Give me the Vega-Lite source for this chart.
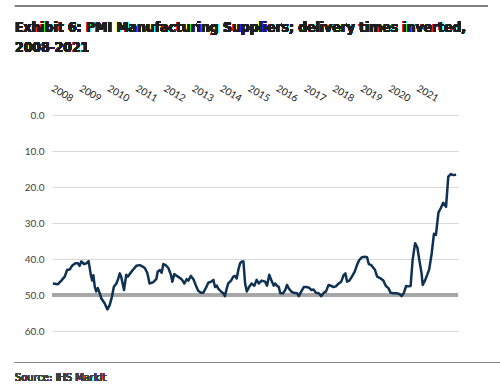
{
  "$schema": "https://vega.github.io/schema/vega-lite/v6.json",
  "width": 406,
  "height": 216,
  "autosize": {"type": "none"},
  "padding": {"left": 52, "top": 115, "right": 42, "bottom": 57},
  "background": "white",
  "config": {
    "view": {"stroke": null},
    "axisX": {"tickCount": 14, "format": "d", "labelOverlap": false, "grid": false, "domain": false, "ticks": false,
              "labelAngle": 30, "labelAlign": "right", "labelBaseline": "middle", "labelPadding": 16,
              "labelFont": "Lato", "labelFontSize": 10, "labelColor": "#1a1a1a", "title": null},
    "axisY": {"tickCount": 6, "format": ".1f", "labelOverlap": false, "grid": true, "gridColor": "#d9d9d9", "gridWidth": 1,
              "domain": false, "ticks": false, "labelPadding": 8, "labelFont": "Lato", "labelFontSize": 10,
              "labelColor": "#404040", "title": null}
  },
  "data": {
    "values": [
      {"t": 2007.33, "v": 46.8}, {"t": 2007.51, "v": 47.0}, {"t": 2007.63, "v": 46.0}, {"t": 2007.75, "v": 44.9},
      {"t": 2007.84, "v": 43.0}, {"t": 2007.93, "v": 42.9}, {"t": 2008.01, "v": 41.9}, {"t": 2008.13, "v": 41.2},
      {"t": 2008.22, "v": 41.2}, {"t": 2008.28, "v": 41.9}, {"t": 2008.34, "v": 40.7}, {"t": 2008.44, "v": 41.4},
      {"t": 2008.52, "v": 41.2}, {"t": 2008.60, "v": 40.6}, {"t": 2008.68, "v": 44.4}, {"t": 2008.73, "v": 46.0},
      {"t": 2008.77, "v": 44.5}, {"t": 2008.82, "v": 47.7}, {"t": 2008.87, "v": 49.0}, {"t": 2008.93, "v": 48.1},
      {"t": 2008.99, "v": 49.4}, {"t": 2009.05, "v": 50.9}, {"t": 2009.17, "v": 52.3}, {"t": 2009.27, "v": 54.0},
      {"t": 2009.35, "v": 52.8}, {"t": 2009.43, "v": 50.5}, {"t": 2009.50, "v": 47.7}, {"t": 2009.59, "v": 46.8},
      {"t": 2009.65, "v": 45.6}, {"t": 2009.71, "v": 44.0}, {"t": 2009.76, "v": 44.9}, {"t": 2009.86, "v": 48.6},
      {"t": 2009.94, "v": 44.4}, {"t": 2010.00, "v": 44.9}, {"t": 2010.06, "v": 44.2}, {"t": 2010.18, "v": 43.0},
      {"t": 2010.30, "v": 41.9}, {"t": 2010.42, "v": 41.7}, {"t": 2010.48, "v": 41.9}, {"t": 2010.60, "v": 42.5},
      {"t": 2010.69, "v": 43.9}, {"t": 2010.77, "v": 46.8}, {"t": 2010.89, "v": 46.5}, {"t": 2011.01, "v": 45.6},
      {"t": 2011.06, "v": 43.5}, {"t": 2011.14, "v": 43.1}, {"t": 2011.20, "v": 43.8}, {"t": 2011.26, "v": 41.4},
      {"t": 2011.34, "v": 41.7}, {"t": 2011.44, "v": 42.5}, {"t": 2011.53, "v": 44.4}, {"t": 2011.58, "v": 46.3},
      {"t": 2011.65, "v": 44.2}, {"t": 2011.74, "v": 44.7}, {"t": 2011.82, "v": 45.1}, {"t": 2011.91, "v": 45.6},
      {"t": 2012.01, "v": 46.8}, {"t": 2012.09, "v": 45.6}, {"t": 2012.15, "v": 46.0}, {"t": 2012.24, "v": 44.7},
      {"t": 2012.33, "v": 45.6}, {"t": 2012.41, "v": 47.2}, {"t": 2012.50, "v": 48.8}, {"t": 2012.60, "v": 49.4},
      {"t": 2012.68, "v": 49.4}, {"t": 2012.77, "v": 48.1}, {"t": 2012.86, "v": 46.6}, {"t": 2012.96, "v": 46.3},
      {"t": 2013.04, "v": 45.8}, {"t": 2013.10, "v": 47.8}, {"t": 2013.16, "v": 47.4}, {"t": 2013.22, "v": 48.3},
      {"t": 2013.31, "v": 49.0}, {"t": 2013.39, "v": 49.5}, {"t": 2013.45, "v": 50.3}, {"t": 2013.52, "v": 48.1},
      {"t": 2013.57, "v": 46.8}, {"t": 2013.67, "v": 46.0}, {"t": 2013.75, "v": 44.9}, {"t": 2013.81, "v": 44.7},
      {"t": 2013.87, "v": 45.4}, {"t": 2013.93, "v": 43.0}, {"t": 2013.99, "v": 41.2}, {"t": 2014.05, "v": 40.7},
      {"t": 2014.11, "v": 40.7}, {"t": 2014.17, "v": 46.8}, {"t": 2014.23, "v": 49.0}, {"t": 2014.31, "v": 47.8},
      {"t": 2014.40, "v": 46.8}, {"t": 2014.50, "v": 47.4}, {"t": 2014.58, "v": 45.8}, {"t": 2014.66, "v": 46.8},
      {"t": 2014.76, "v": 46.0}, {"t": 2014.88, "v": 46.3}, {"t": 2014.95, "v": 47.4}, {"t": 2015.03, "v": 44.4},
      {"t": 2015.10, "v": 45.8}, {"t": 2015.19, "v": 47.4}, {"t": 2015.24, "v": 46.8}, {"t": 2015.30, "v": 47.4},
      {"t": 2015.37, "v": 47.8}, {"t": 2015.42, "v": 49.5}, {"t": 2015.52, "v": 49.5}, {"t": 2015.60, "v": 48.6},
      {"t": 2015.66, "v": 47.2}, {"t": 2015.72, "v": 48.1}, {"t": 2015.81, "v": 49.0}, {"t": 2015.90, "v": 49.4},
      {"t": 2016.02, "v": 49.5}, {"t": 2016.08, "v": 50.3}, {"t": 2016.17, "v": 49.0}, {"t": 2016.26, "v": 47.8},
      {"t": 2016.34, "v": 47.8}, {"t": 2016.43, "v": 47.9}, {"t": 2016.53, "v": 48.6}, {"t": 2016.61, "v": 48.5},
      {"t": 2016.69, "v": 49.4}, {"t": 2016.79, "v": 49.5}, {"t": 2016.88, "v": 50.3}, {"t": 2016.97, "v": 49.4},
      {"t": 2017.05, "v": 49.0}, {"t": 2017.14, "v": 47.2}, {"t": 2017.24, "v": 47.5}, {"t": 2017.32, "v": 47.8},
      {"t": 2017.40, "v": 47.6}, {"t": 2017.50, "v": 46.8}, {"t": 2017.59, "v": 46.3}, {"t": 2017.68, "v": 44.4},
      {"t": 2017.74, "v": 44.0}, {"t": 2017.80, "v": 46.3}, {"t": 2017.88, "v": 46.0}, {"t": 2017.97, "v": 44.9},
      {"t": 2018.07, "v": 43.5}, {"t": 2018.15, "v": 41.7}, {"t": 2018.23, "v": 40.3}, {"t": 2018.33, "v": 39.5},
      {"t": 2018.43, "v": 39.4}, {"t": 2018.51, "v": 39.5}, {"t": 2018.57, "v": 41.4}, {"t": 2018.66, "v": 41.7},
      {"t": 2018.71, "v": 42.2}, {"t": 2018.79, "v": 43.0}, {"t": 2018.87, "v": 44.9}, {"t": 2018.99, "v": 45.4},
      {"t": 2019.09, "v": 46.0}, {"t": 2019.18, "v": 47.5}, {"t": 2019.27, "v": 48.1}, {"t": 2019.35, "v": 49.4},
      {"t": 2019.44, "v": 49.5}, {"t": 2019.56, "v": 49.5}, {"t": 2019.66, "v": 49.7}, {"t": 2019.74, "v": 50.3},
      {"t": 2019.82, "v": 49.4}, {"t": 2019.90, "v": 47.5}, {"t": 2019.98, "v": 47.6}, {"t": 2020.06, "v": 47.5},
      {"t": 2020.13, "v": 40.3}, {"t": 2020.22, "v": 35.6}, {"t": 2020.30, "v": 36.8}, {"t": 2020.37, "v": 40.3},
      {"t": 2020.45, "v": 44.0}, {"t": 2020.49, "v": 47.2}, {"t": 2020.57, "v": 46.0}, {"t": 2020.65, "v": 44.4},
      {"t": 2020.72, "v": 42.9}, {"t": 2020.81, "v": 38.4}, {"t": 2020.89, "v": 33.0}, {"t": 2020.96, "v": 33.3},
      {"t": 2021.05, "v": 27.1}, {"t": 2021.13, "v": 25.9}, {"t": 2021.22, "v": 24.4}, {"t": 2021.32, "v": 25.5},
      {"t": 2021.40, "v": 17.1}, {"t": 2021.49, "v": 16.4}, {"t": 2021.58, "v": 16.7}, {"t": 2021.68, "v": 16.6}
    ]
  },
  "layer": [
    {
      "mark": {"type": "rule", "color": "#808080", "strokeWidth": 1},
      "encoding": {
        "x": {"datum": 2005.981, "type": "quantitative"},
        "x2": {"datum": 2022.814},
        "y": {"datum": -30.4, "type": "quantitative", "scale": {"domain": [0, 60], "reverse": true, "nice": false, "zero": false}}
      }
    },
    {
      "mark": {"type": "rule", "color": "#808080", "strokeWidth": 1},
      "encoding": {
        "x": {"datum": 2005.981, "type": "quantitative"},
        "x2": {"datum": 2023.3},
        "y": {"datum": 68.75, "type": "quantitative"}
      }
    },
    {
      "mark": {"type": "rule", "color": "#a6a6a6", "strokeWidth": 2.5},
      "encoding": {
        "y": {"datum": 50, "type": "quantitative"}
      }
    },
    {
      "mark": {"type": "line", "color": "#0f3152", "strokeWidth": 2.5, "strokeJoin": "round"},
      "encoding": {
        "x": {
          "field": "t",
          "type": "quantitative",
          "scale": {"domain": [2007.298, 2021.746], "nice": false, "zero": false},
          "axis": {"orient": "top"}
        },
        "y": {"field": "v", "type": "quantitative"}
      }
    },
    {
      "mark": {"type": "text", "align": "left", "baseline": "alphabetic", "font": "'Liberation Sans Narrow', 'DejaVu Sans Condensed', 'Roboto Condensed', 'Arial Narrow', Roboto, sans-serif", "fontSize": 13.8, "fontWeight": "bold", "lineHeight": 20, "color": "#1f1f1f"},
      "encoding": {
        "x": {"datum": 2005.981, "type": "quantitative"},
        "y": {"datum": -23.06, "type": "quantitative"},
        "text": {"value": ["Exhibit 6: PMI Manufacturing Suppliers; delivery times inverted,", "2008-2021"]}
      }
    },
    {
      "mark": {"type": "text", "align": "left", "baseline": "alphabetic", "font": "'Liberation Sans Narrow', 'DejaVu Sans Condensed', 'Roboto Condensed', 'Arial Narrow', Roboto, sans-serif", "fontSize": 11, "fontWeight": "normal", "color": "#404040"},
      "encoding": {
        "x": {"datum": 2005.981, "type": "quantitative"},
        "y": {"datum": 73.9, "type": "quantitative"},
        "text": {"value": "Source: IHS Markit"}
      }
    }
  ]
}
